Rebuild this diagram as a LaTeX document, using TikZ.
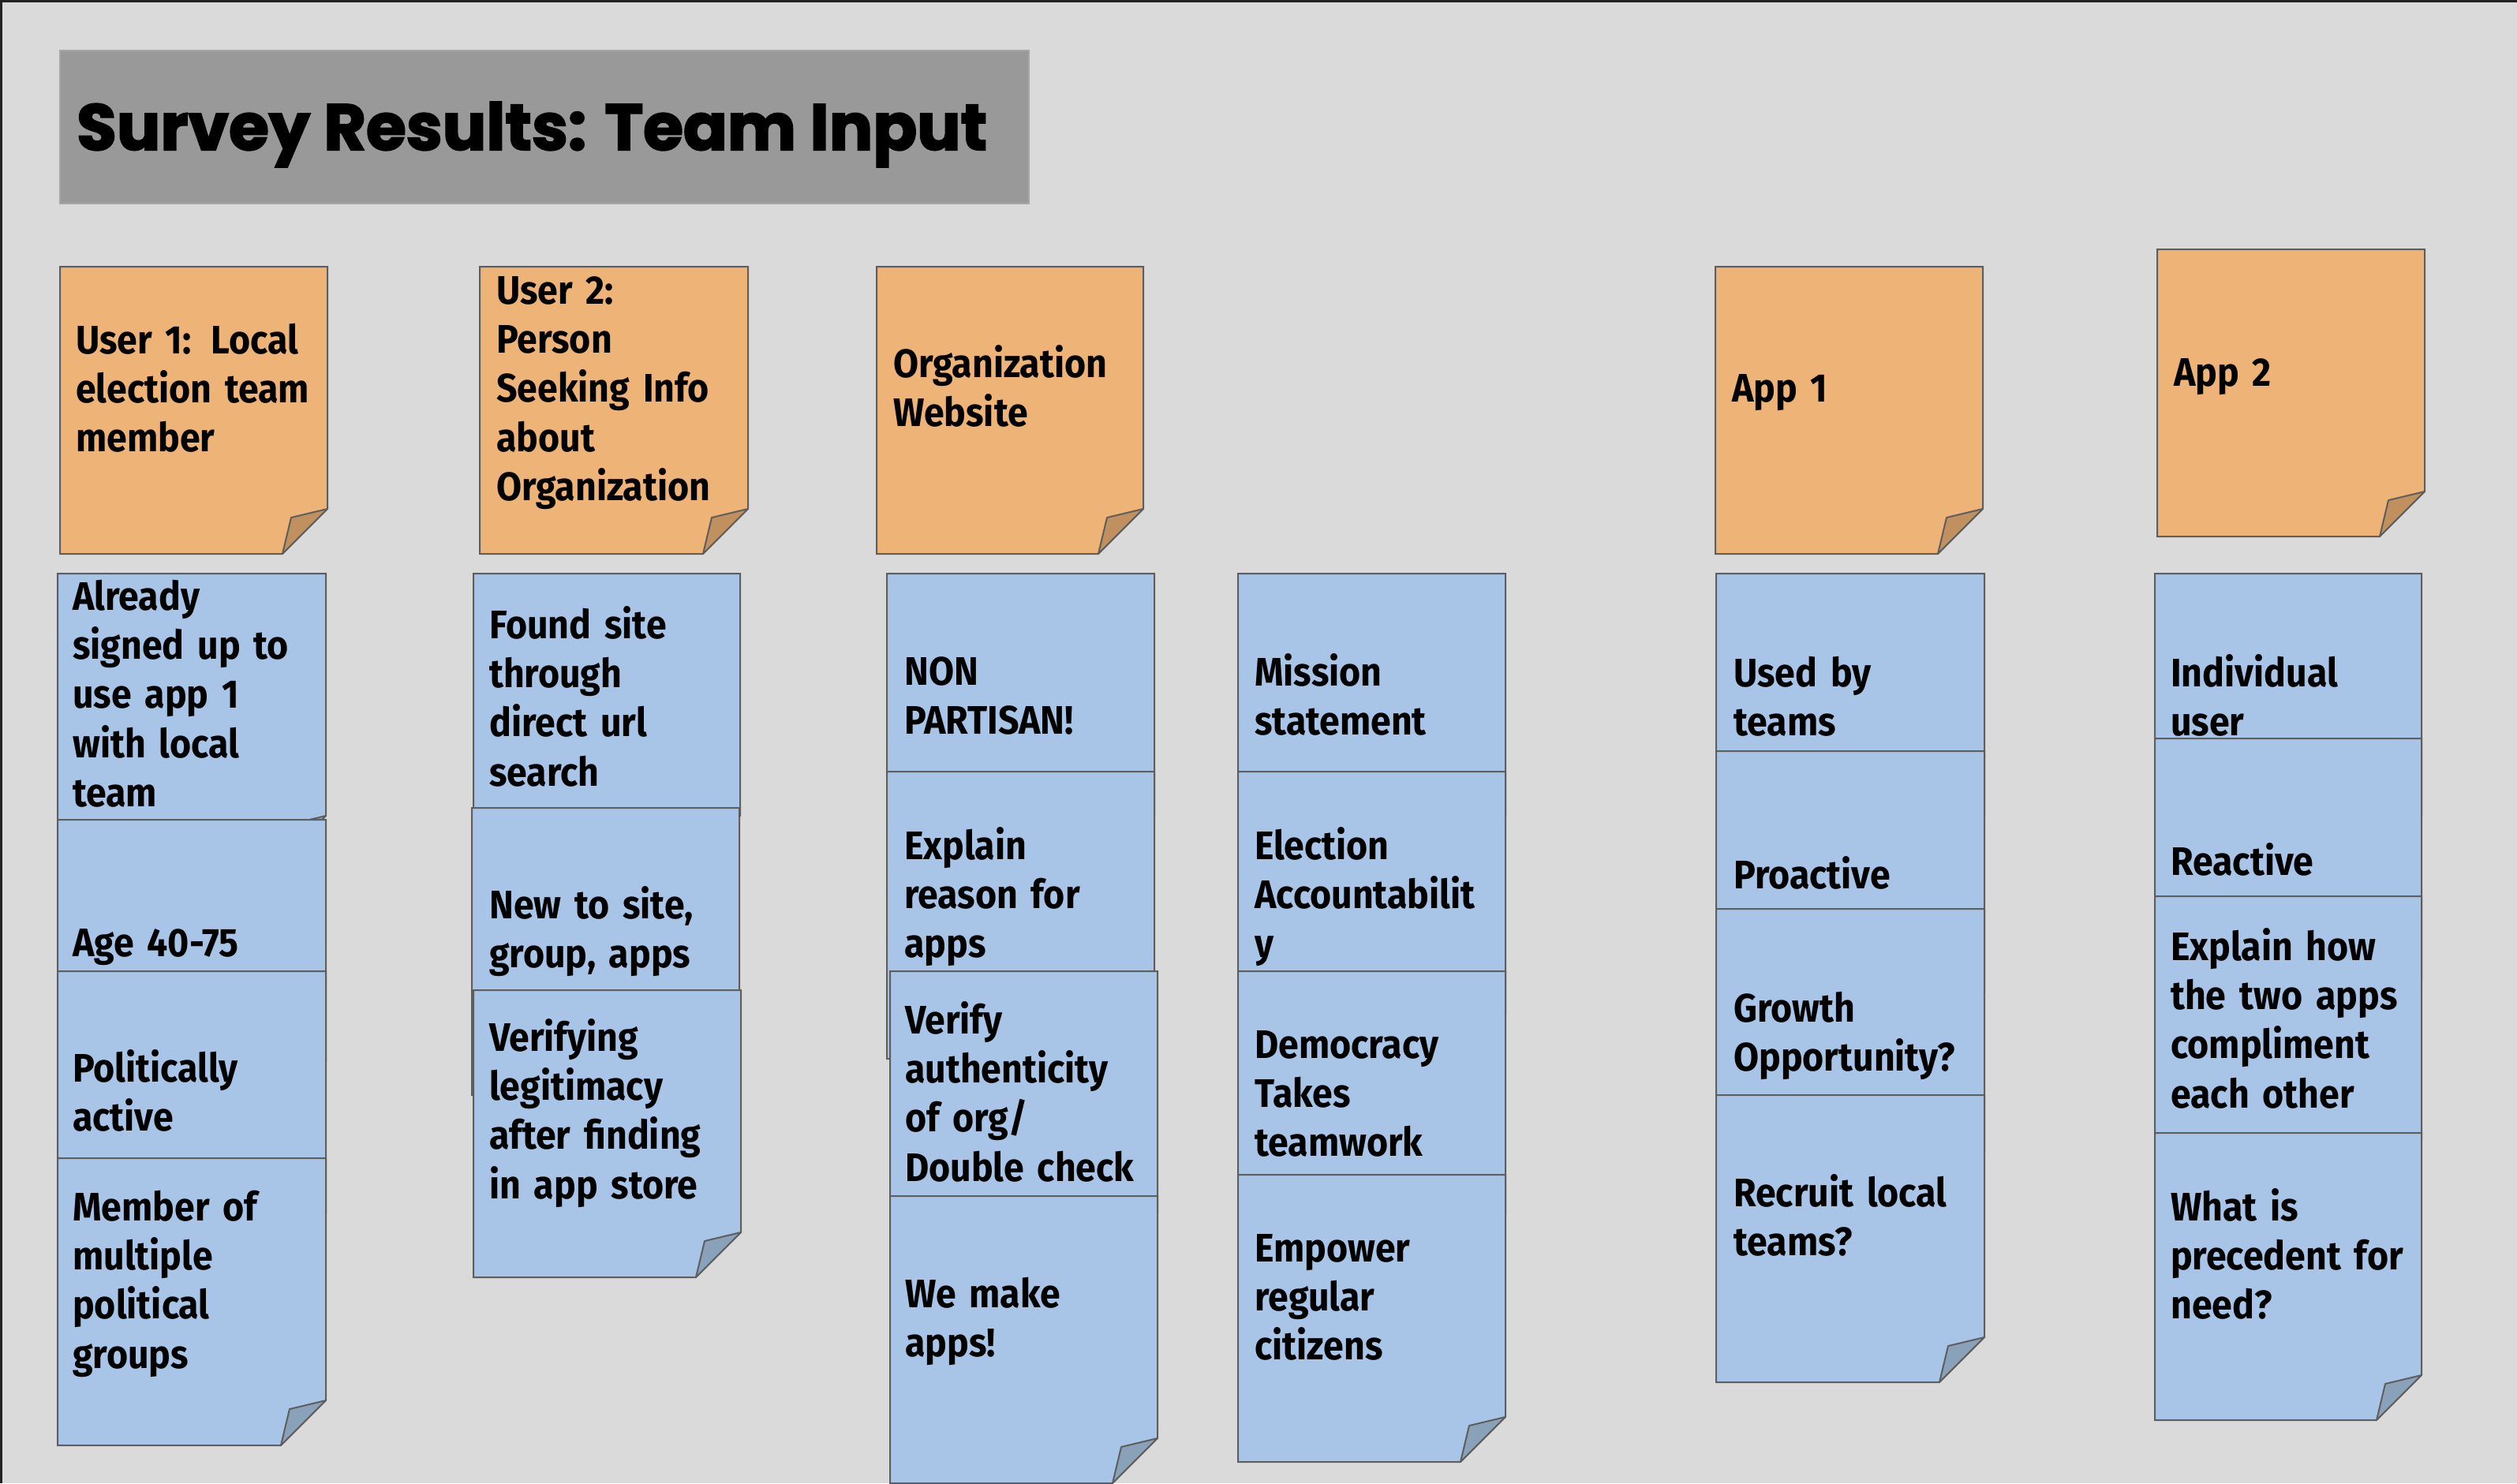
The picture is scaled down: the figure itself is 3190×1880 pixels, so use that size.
\documentclass[tikz,border=0pt]{standalone}
\usepackage{fontspec}
\usepackage{graphicx}
\newfontfamily\notefont[FakeStretch=0.92]{Fira Sans}
\newfontfamily\titlefont[FakeBold=2.5]{Poppins}
\definecolor{bgc}{HTML}{DADADA}
\definecolor{edgec}{HTML}{222222}
\definecolor{titlec}{HTML}{999999}
\definecolor{titlebd}{HTML}{A6A6A6}
\definecolor{bordc}{HTML}{5E5E5E}
\definecolor{orng}{HTML}{EDB377}
\definecolor{orngf}{HTML}{C0905F}
\definecolor{blu}{HTML}{A8C5E8}
\definecolor{bluf}{HTML}{8AA1BA}
\tikzset{
  notebd/.style={draw=bordc, line width=2pt, line join=miter},
  ntext/.style={anchor=base west, inner sep=0pt, text width=400pt, align=left,
    font=\notefont\bfseries\fontsize{50.5pt}{62.4pt}\selectfont, text=black},
}
% sticky note: #1 left, #2 top, #3 right, #4 fill, #5 fold colour
\newcommand\snote[5]{%
  \draw[notebd, fill=#4] (#1,#2) -- (#3,#2) -- (#3,#2+307) -- (#3-57,#2+364) -- (#1,#2+364) -- cycle;
  \draw[notebd, fill=#5, line join=round] (#3,#2+307) -- (#3-46,#2+318) -- (#3-57,#2+364) -- cycle;
}
\begin{document}
\begin{tikzpicture}[x=1pt,y=-1pt]
\useasboundingbox (0,0) rectangle (3190,1880);
\fill[bgc] (0,0) rectangle (3190,1880);
\fill[edgec] (0,0) rectangle (3190,2.5);
\fill[edgec] (0,0) rectangle (2.5,1880);
% title
\draw[draw=titlebd, fill=titlec, line width=1.5pt] (76,64) rectangle (1304,258);
\node[anchor=base west, inner sep=0pt] (title) at (97,190)
  {\resizebox{1154pt}{!}{\titlefont\bfseries\fontsize{74pt}{80pt}\selectfont Survey Results: Team Input}};
% orange header notes
\snote{76}{338}{415}{orng}{orngf}
\node[ntext] (h1) at (96,448) {User 1: Local\\election team\\member};
\snote{608}{338}{948}{orng}{orngf}
\node[ntext] (h2) at (629,385) {User 2:\\Person\\Seeking Info\\about\\Organization};
\snote{1111}{338}{1449}{orng}{orngf}
\node[ntext] (h3) at (1132,478) {Organization\\Website};
\snote{2174}{338}{2513}{orng}{orngf}
\node[ntext] (h4) at (2195,509) {App 1};
\snote{2734}{316}{3073}{orng}{orngf}
\node[ntext] (h5) at (2755,489) {App 2};
% column 1
\snote{73}{727}{413}{blu}{bluf}
\node[ntext] (a1) at (92,773) {Already\\signed up to\\use app 1\\with local\\team};
\snote{73}{1039}{413}{blu}{bluf}
\node[ntext] (a2) at (92,1212) {Age 40-75};
\snote{73}{1231}{413}{blu}{bluf}
\node[ntext] (a3) at (92,1371) {Politically\\active};
\snote{73}{1468}{413}{blu}{bluf}
\node[ntext] (a4) at (92,1547) {Member of\\multiple\\political\\groups};
% column 2
\snote{600}{727}{938}{blu}{bluf}
\node[ntext] (b1) at (620,809) {Found site\\through\\direct url\\search};
\snote{598}{1024}{937}{blu}{bluf}
\node[ntext] (b2) at (620,1164) {New to site,\\group, apps};
\snote{600}{1255}{939}{blu}{bluf}
\node[ntext] (b3) at (620,1332) {Verifying\\legitimacy\\after finding\\in app store};
% column 3
\snote{1124}{727}{1463}{blu}{bluf}
\node[ntext] (c1) at (1146,868) {NON\\PARTISAN!};
\snote{1124}{978}{1463}{blu}{bluf}
\node[ntext] (c2) at (1146,1089) {Explain\\reason for\\apps};
\snote{1128}{1231}{1467}{blu}{bluf}
\node[ntext] (c3) at (1147,1310) {Verify\\authenticity\\of org/\\Double check};
\snote{1128}{1516}{1467}{blu}{bluf}
\node[ntext] (c4) at (1147,1657) {We make\\apps!};
% column 4
\snote{1569}{727}{1908}{blu}{bluf}
\node[ntext] (d1) at (1590,869) {Mission\\statement};
\snote{1569}{978}{1908}{blu}{bluf}
\node[ntext] (d2) at (1590,1089) {Election\\Accountabilit\\y};
\snote{1569}{1231}{1908}{blu}{bluf}
\node[ntext] (d3) at (1590,1341) {Democracy\\Takes\\teamwork};
\snote{1569}{1489}{1908}{blu}{bluf}
\node[ntext] (d4) at (1590,1599) {Empower\\regular\\citizens};
% column 5
\snote{2175}{727}{2515}{blu}{bluf}
\node[ntext] (e1) at (2197,870) {Used by\\teams};
\snote{2175}{952}{2515}{blu}{bluf}
\node[ntext] (e2) at (2197,1126) {Proactive};
\snote{2175}{1152}{2515}{blu}{bluf}
\node[ntext] (e3) at (2197,1295) {Growth\\Opportunity?};
\snote{2175}{1388}{2515}{blu}{bluf}
\node[ntext] (e4) at (2197,1529) {Recruit local\\teams?};
% column 6
\snote{2731}{727}{3069}{blu}{bluf}
\node[ntext] (f1) at (2751,870) {Individual\\user};
\snote{2731}{936}{3069}{blu}{bluf}
\node[ntext] (f2) at (2751,1109) {Reactive};
\snote{2731}{1136}{3069}{blu}{bluf}
\node[ntext] (f3) at (2751,1217) {Explain how\\the two apps\\compliment\\each other};
\snote{2731}{1436}{3069}{blu}{bluf}
\node[ntext] (f4) at (2751,1547) {What is\\precedent for\\need?};
\end{tikzpicture}
\end{document}
